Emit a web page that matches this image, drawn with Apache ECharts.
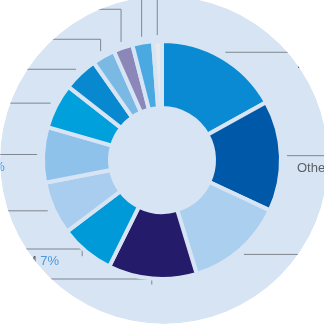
<!DOCTYPE html>
<html>
<head>
<meta charset="utf-8">
<script src="https://cdn.jsdelivr.net/npm/echarts@6/dist/echarts.min.js"></script>
<style>
html,body{margin:0;padding:0;width:324px;height:324px;overflow:hidden;background:#ffffff;}
#c{position:absolute;left:-300px;top:-300px;width:924px;height:924px;}
</style>
</head>
<body>
<div id="c"></div>
<script>
// ---- data ----
const names = ['Microsoft', 'Other software', 'Other services', 'Oracle', 'Lenovo / IBM', 'LG', 'Dell', 'HP', 'Cisco', 'Apple', 'Fujitsu', 'Google', 'SAP'];
const values = [16.9, 15.0, 13.3, 12.0, 7.4, 7.2, 7.5, 6.1, 4.7, 3.1, 2.6, 2.8, 1.2];
const colors = ['#0a8ad2', '#0058a8', '#abcfee', '#241b6b', '#009ad8', '#a9cdee', '#8fc2ea', '#00a0dc', '#0788cf', '#7bb9e5', '#8b87b9', '#4aa9e1', '#e6e9ee'];

// ---- layout (container is offset so the visible 324x324 window is a crop) ----
const OFF_X = 300, OFF_Y = 300;
const CX = OFF_X + 162, CY = OFF_Y + 160;
const R_OUT = 119, R_IN = 52;
const BG = '#d6e4f4';
const BG_CX = OFF_X + 164, BG_CY = OFF_Y + 160, BG_R = 164;
const LINE_R = 125, GAP = 30;
const Y_MAX = CY + R_OUT, Y_MIN = CY - R_OUT;

// leader line routing derived from slice mid-angles
const total = values.reduce((a, b) => a + b, 0);
let acc = 0;
const anchors = values.map((v, i) => {
  const a = (acc + v / 2) / total * Math.PI * 2;
  acc += v;
  return { i, sx: CX + LINE_R * Math.sin(a), sy: CY - LINE_R * Math.cos(a), right: Math.sin(a) > 0 };
});
const lineY = new Array(values.length);
const leftSide = anchors.filter(d => !d.right).sort((a, b) => b.sy - a.sy);
let prev = Y_MAX + GAP;
leftSide.forEach(d => { const y = Math.min(d.sy, prev - GAP); lineY[d.i] = y; prev = y; });
const rightSide = anchors.filter(d => d.right).sort((a, b) => a.sy - b.sy);
prev = Y_MIN - GAP;
rightSide.forEach(d => { const y = Math.max(d.sy, prev + GAP); lineY[d.i] = y; prev = y; });

const chart = echarts.init(document.getElementById('c'), null, { renderer: 'canvas' });
chart.setOption({
  animation: false,
  backgroundColor: 'transparent',
  graphic: [
    { type: 'circle', z: 0, silent: true, shape: { cx: BG_CX, cy: BG_CY, r: BG_R }, style: { fill: BG } },
    { type: 'ring', z: 100, silent: true, shape: { cx: BG_CX, cy: BG_CY, r: 2000, r0: BG_R }, style: { fill: '#ffffff' } }
  ],
  series: [{
    type: 'pie',
    z: 2,
    center: [CX, CY],
    radius: [R_IN, R_OUT],
    startAngle: 90,
    clockwise: true,
    avoidLabelOverlap: false,
    percentPrecision: 0,
    itemStyle: { borderColor: BG, borderWidth: 4 },
    label: {
      show: true,
      position: 'outside',
      formatter: '{n|{b}} {p|{d}%}',
      fontFamily: 'Liberation Sans, Arial, sans-serif',
      fontSize: 13,
      color: '#5b5f64',
      rich: {
        n: { fontFamily: 'Liberation Sans, Arial, sans-serif', fontSize: 13, color: '#5b5f64' },
        p: { fontFamily: 'Liberation Sans, Arial, sans-serif', fontSize: 13, color: '#4a9ade' }
      }
    },
    labelLine: { show: true, length: 8, length2: 10, lineStyle: { color: '#80868e', width: 1 } },
    labelLayout: function (p) {
      const d = anchors[p.dataIndex];
      const y = lineY[p.dataIndex];
      const farX = d.right ? CX + 420 : CX - 420;
      return {
        x: d.right ? CX + 135 : CX - 202,
        y: y + 6,
        align: 'left',
        verticalAlign: 'top',
        labelLinePoints: [[d.sx, d.sy], [d.sx, y], [farX, y]]
      };
    },
    emphasis: { disabled: true },
    data: names.map((n, i) => ({ name: n, value: values[i], itemStyle: { color: colors[i] } }))
  }]
});
</script>
</body>
</html>
